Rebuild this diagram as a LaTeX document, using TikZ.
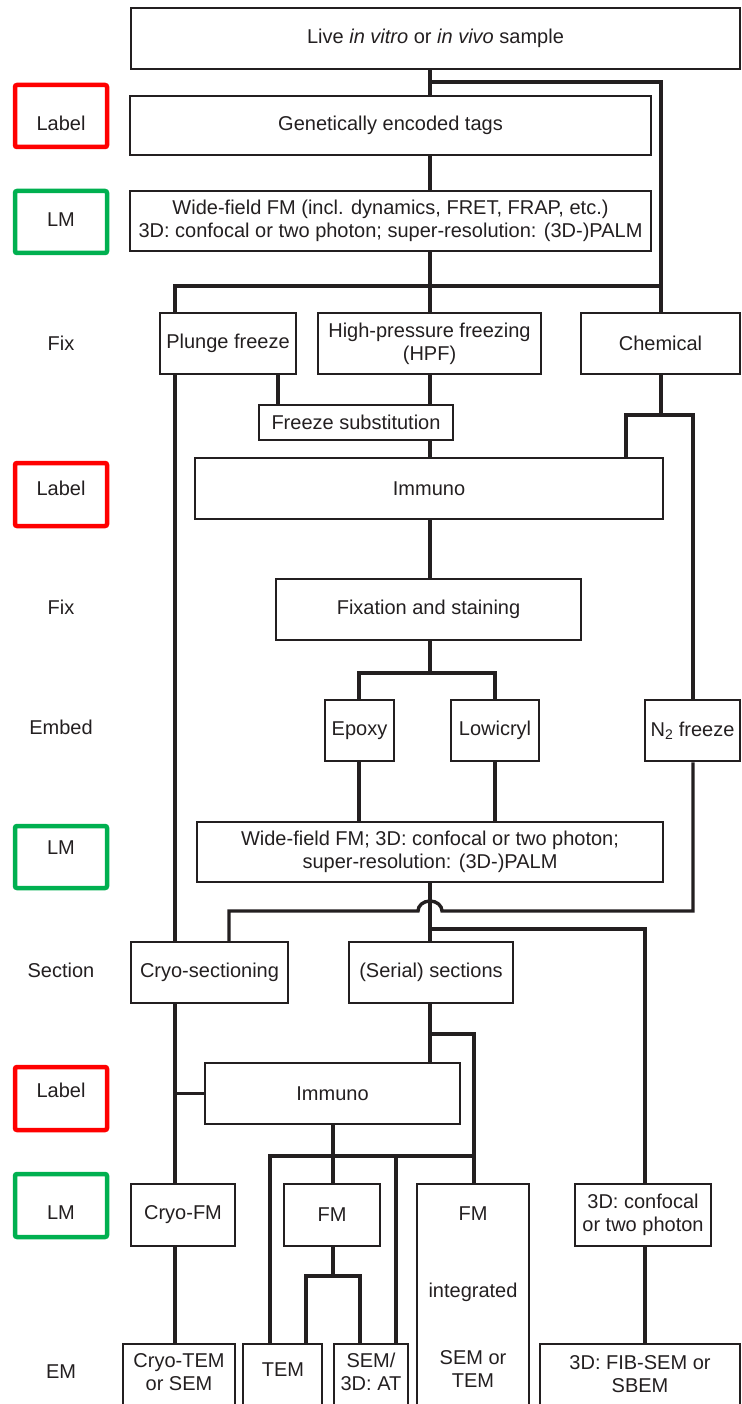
\documentclass[tikz,border=0pt]{standalone}
\usepackage{fontspec}
\setmainfont{Liberation Sans}
\definecolor{ink}{HTML}{231F20}
\definecolor{lblred}{HTML}{FF0000}
\definecolor{lblgreen}{HTML}{00B050}
\tikzset{
  box/.style={draw=ink, line width=2.5pt, inner sep=0pt, align=center, text=ink, font=\fontsize{20}{23}\selectfont},
  txt/.style={inner sep=0pt, align=center, text=ink, font=\fontsize{20}{23}\selectfont},
  conn/.style={draw=ink, line width=3.4pt},
  redbox/.style={draw=lblred, line width=4.5pt, rounded corners=2pt},
  greenbox/.style={draw=lblgreen, line width=4.5pt, rounded corners=2pt},
}
\newcommand\mybox[6]{\node[box, minimum width={(#4-#2)*1pt}, minimum height={(#5-#3)*1pt}] (#1) at ({(#2+#4)/2},{(#3+#5)/2}) {#6};}
\begin{document}
\begin{tikzpicture}[x=1pt,y=-1pt]
\useasboundingbox (0,0) rectangle (741,1404);
\clip (0,0) rectangle (741,1404);

% left column
\draw[redbox] (15,85) rectangle (107,147);
\draw[greenbox] (15,191) rectangle (107,253);
\draw[redbox] (15,463) rectangle (107,526);
\draw[greenbox] (15,826) rectangle (107,888);
\draw[redbox] (15,1067) rectangle (107,1130);
\draw[greenbox] (15,1174) rectangle (107,1237);
\node[txt] (l1) at (61,123) {Label};
\node[txt] (l2) at (61,220) {LM};
\node[txt] (l3) at (61,343) {Fix};
\node[txt] (l4) at (61,488) {Label};
\node[txt] (l5) at (61,607) {Fix};
\node[txt] (l6) at (61,727) {Embed};
\node[txt] (l7) at (61,848) {LM};
\node[txt] (l8) at (61,970) {Section};
\node[txt] (l9) at (61,1090) {Label};
\node[txt] (l10) at (61,1213) {LM};
\node[txt] (l11) at (61,1372) {EM};

% boxes
\mybox{top}{131}{8}{740}{69}{Live \textit{in vitro} or \textit{in vivo} sample}
\mybox{gen}{130}{96}{651}{155}{Genetically encoded tags}
\mybox{wf1}{130}{191}{651}{251}{Wide-field FM (incl. dynamics, FRET, FRAP, etc.)\\3D: confocal or two photon; super-resolution: (3D-)PALM}
\mybox{plunge}{160}{313}{296}{374}{Plunge freeze}
\mybox{hpf}{318}{313}{541}{374}{High-pressure freezing\\(HPF)}
\mybox{chem}{581}{313}{740}{374}{Chemical}
\mybox{fsub}{259}{405}{453}{440}{Freeze substitution}
\mybox{imm1}{195}{458}{663}{519}{Immuno}
\mybox{fix}{276}{579}{581}{640}{Fixation and staining}
\mybox{epoxy}{325}{700}{394}{761}{Epoxy}
\mybox{lowi}{451}{700}{539}{761}{Lowicryl}
\mybox{n2}{645}{700}{740}{761}{N\textsubscript{2} freeze}
\mybox{wf2}{197}{822}{663}{882}{Wide-field FM; 3D: confocal or two photon;\\super-resolution: (3D-)PALM}
\mybox{cryosec}{131}{942}{288}{1003}{Cryo-sectioning}
\mybox{serial}{349}{942}{513}{1003}{(Serial) sections}
\mybox{imm2}{205}{1063}{460}{1124}{Immuno}
\mybox{cryofm}{131}{1184}{235}{1246}{Cryo-FM}
\mybox{fm}{284}{1184}{380}{1246}{FM}
\mybox{fmint}{417}{1184}{529}{1430}{}
\mybox{conf3d}{575}{1184}{711}{1246}{3D: confocal\\or two photon}
\mybox{cryotem}{123}{1344}{235}{1430}{}
\mybox{tem}{243}{1344}{322}{1430}{}
\mybox{semat}{334}{1344}{408}{1430}{}
\mybox{fib}{540}{1344}{740}{1430}{}
\node[txt] (fmintA) at (473,1214) {FM};
\node[txt] (fmintB) at (473,1292) {integrated};
\node[txt] (fmintC) at (473,1369) {SEM or\\TEM};
\node[txt] (cryotemT) at (179,1372) {Cryo-TEM\\or SEM};
\node[txt] (temT) at (283,1370) {TEM};
\node[txt] (sematT) at (371,1372) {SEM/\\3D: AT};
\node[txt] (fibT) at (640,1374) {3D: FIB-SEM or\\SBEM};

% vertical line positions
\coordinate (sp) at (430,0);
\coordinate (vL) at (175,0);
\coordinate (vR) at (661,0);
\coordinate (vPF) at (278,0);
\coordinate (vIm) at (626,0);
\coordinate (vN2) at (693,0);
\coordinate (vEp) at (359,0);
\coordinate (vLo) at (495,0);
\coordinate (vCs) at (229,0);
\coordinate (vCf) at (645,0);
\coordinate (vFi) at (474,0);
\coordinate (vTa) at (270,0);
\coordinate (vSa) at (396,0);
\coordinate (vFm) at (333,0);
\coordinate (vTb) at (306,0);
\coordinate (vSb) at (360,0);
% junctions
\coordinate (jTop) at (430,82);
\coordinate (jFix) at (430,286);
\coordinate (jChem) at (661,415);
\coordinate (jEmb) at (430,673);
\coordinate (hopR) at (442,911);
\coordinate (jSec) at (430,929);
\coordinate (jSer) at (430,1034);
\coordinate (jImm) at (333,1156);
\coordinate (jFm) at (333,1276);

% connectors
\draw[conn] (top.south -| sp) -- (gen.north -| sp);
\draw[conn] (jTop) -| (chem.north -| vR);
\draw[conn] (gen.south -| sp) -- (wf1.north -| sp);
\draw[conn] (wf1.south -| sp) -- (hpf.north -| sp);
\draw[conn] (plunge.north -| vL) |- (jFix) -- (jFix -| vR);
\draw[conn] (plunge.south -| vPF) -- (fsub.north -| vPF);
\draw[conn] (hpf.south -| sp) -- (fsub.north -| sp);
\draw[conn] (fsub.south -| sp) -- (imm1.north -| sp);
\draw[conn] (chem.south -| vR) -- (jChem);
\draw[conn] (imm1.north -| vIm) |- (jChem -| vN2) -- (n2.north -| vN2);
\draw[conn] (imm1.south -| sp) -- (fix.north -| sp);
\draw[conn] (fix.south -| sp) -- (jEmb);
\draw[conn] (epoxy.north -| vEp) |- (jEmb -| vLo) -- (lowi.north -| vLo);
\draw[conn] (epoxy.south -| vEp) -- (wf2.north -| vEp);
\draw[conn] (lowi.south -| vLo) -- (wf2.north -| vLo);
\draw[conn] (n2.south -| vN2) |- (hopR) arc[start angle=0, end angle=180, x radius=12pt, y radius=10pt] -| (cryosec.north -| vCs);
\draw[conn] (wf2.south -| sp) -- (serial.north -| sp);
\draw[conn] (jSec) -| (conf3d.north -| vCf);
\draw[conn] (serial.south -| sp) -- (imm2.north -| sp);
\draw[conn] (jSer) -| (fmint.north -| vFi);
\draw[conn] (plunge.south -| vL) -- (cryosec.north -| vL);
\draw[conn] (cryosec.south -| vL) -- (cryofm.north -| vL);
\draw[conn] (imm2.west -| vL) -- (imm2.west);
\draw[conn] (imm2.south -| vFm) -- (fm.north -| vFm);
\draw[conn] (tem.north -| vTa) |- (jImm -| vFi);
\draw[conn] (jImm -| vSa) -- (semat.north -| vSa);
\draw[conn] (cryofm.south -| vL) -- (cryotem.north -| vL);
\draw[conn] (fm.south -| vFm) -- (jFm);
\draw[conn] (tem.north -| vTb) |- (jFm -| vSb) -- (semat.north -| vSb);
\draw[conn] (conf3d.south -| vCf) -- (fib.north -| vCf);
\end{tikzpicture}
\end{document}
